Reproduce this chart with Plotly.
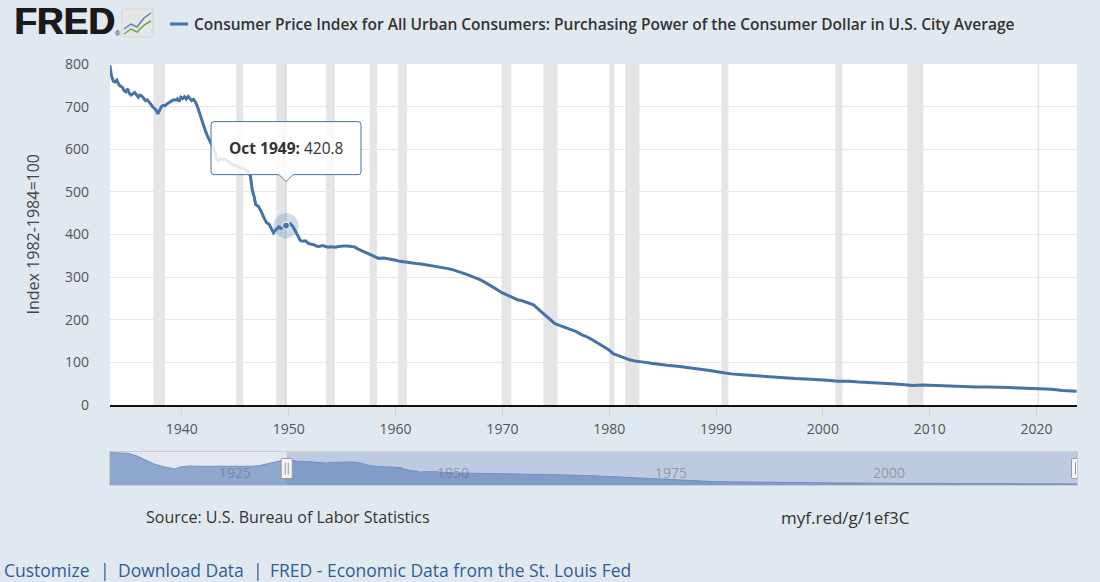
import plotly.graph_objects as go

# ---------------- data ----------------
main_dates = [
    "1933-04","1933-06","1933-08","1933-10","1933-12","1934-02","1934-04","1934-06","1934-08","1934-10","1934-12",
    "1935-02","1935-04","1935-06","1935-08","1935-10","1935-12","1936-02","1936-04","1936-06","1936-08","1936-10","1936-12",
    "1937-02","1937-04","1937-06","1937-08","1937-10","1937-12","1938-02","1938-04","1938-06","1938-08","1938-10","1938-12",
    "1939-02","1939-04","1939-06","1939-08","1939-10","1939-12","1940-02","1940-04","1940-06","1940-08","1940-10","1940-12",
    "1941-02","1941-04","1941-06","1941-08","1941-10","1941-12","1942-02","1942-04","1942-06","1942-08","1942-10","1942-12",
    "1943-02","1943-04","1943-06","1943-08","1943-10","1943-12","1944-03","1944-06","1944-09","1944-12",
    "1945-03","1945-06","1945-09","1945-12","1946-03","1946-06","1946-08","1946-10","1946-12",
    "1947-03","1947-06","1947-09","1947-12","1948-03","1948-06","1948-08","1948-10","1948-12",
    "1949-02","1949-04","1949-06","1949-08","1949-10","1950-01","1950-03","1950-06","1950-09","1950-12",
    "1951-02","1951-05","1951-08","1951-11","1952-02","1952-05","1952-08","1952-11",
    "1953-03","1953-06","1953-09","1953-12","1954-03","1954-06","1954-09","1954-12",
    "1955-03","1955-06","1955-09","1955-12","1956-03","1956-06","1956-09","1956-12",
    "1957-06","1957-12","1958-06","1958-12","1959-06","1959-12","1960-06","1960-12","1961-06","1961-12",
    "1962-06","1962-12","1963-06","1963-12","1964-06","1964-12","1965-06","1965-12","1966-06","1966-12",
    "1967-06","1967-12","1968-06","1968-12","1969-06","1969-12","1970-06","1970-12","1971-06","1971-12",
    "1972-06","1972-12","1973-06","1973-12","1974-06","1974-12","1975-06","1975-12","1976-06","1976-12",
    "1977-06","1977-12","1978-06","1978-12","1979-06","1979-12","1980-06","1980-12","1981-06","1981-12",
    "1982-06","1982-12","1983-06","1983-12","1984-06","1984-12","1985-06","1986-06","1987-06","1988-06",
    "1989-06","1990-06","1991-06","1992-06","1993-06","1994-06","1995-06","1996-06","1997-06","1998-06",
    "1999-06","2000-06","2001-06","2002-06","2003-06","2004-06","2005-06","2006-06","2007-06","2008-06",
    "2009-06","2010-06","2011-06","2012-06","2013-06","2014-06","2015-06","2016-06","2017-06","2018-06",
    "2019-06","2020-06","2021-06","2022-06","2023-06","2023-10",
]
main_values = [
    797,772,760,758,762,752,748,746,738,735,742,
    731,727,731,733,728,722,727,725,720,714,716,712,
    706,700,697,692,683,690,700,703,702,706,708,710,
    714,716,715,718,712,722,719,723,718,724,720,714,
    717,712,703,690,676,665,652,640,630,622,612,604,
    595,578,573,578,576,577,575,569,565,562,
    562,556,556,553,549,538,505,490,470,
    466,455,440,428,424,410,404,410,413,
    418,414,416,418,420.8,424,425,418,405,393,
    386,384,385,379,378,376,373,372,
    374,372,370,371,371,370,372,373,
    373,373,372,371,371,367,364,361,
    354,349,344,345,343,340,337,335,334,332,
    331,329,327,325,323,320,317,313,308,304,
    299,294,287,280,272,264,258,252,247,244,
    240,235,224,213,202,191,186,181,176,172,
    165,160,153,146,138,130,120,115,110,106,
    103,102,100,98,96,95,93,91,88,85,
    81,77,73,71,69,67,66,64,62,61,
    60,58,56,56,54,53,51,50,48,46,
    47,46,44,44,43,42,42,42,41,40,
    39,39,37,34,33,32.5,
]

# earlier history shown only in the navigator
early_dates = ["1913-01","1914-01","1915-01","1916-01","1917-01","1918-01","1919-01","1920-01","1920-06",
               "1921-01","1922-01","1923-01","1924-01","1925-01","1926-01","1927-01","1928-01","1929-01",
               "1930-01","1931-01","1932-01","1933-01"]
early_values = [1010,1000,990,917,781,662,578,520,500,
                559,595,585,585,571,565,575,585,585,
                599,658,730,780]

recession_starts = ["1937-05","1945-02","1948-11","1953-07","1957-08","1960-04","1969-12","1973-11",
                    "1980-01","1981-07","1990-07","2001-03","2007-12","2020-02"]
recession_ends = ["1938-06","1945-10","1949-10","1954-05","1958-04","1961-02","1970-11","1975-03",
                  "1980-07","1982-11","1991-03","2001-11","2009-06","2020-04"]

y_ticks = [0, 100, 200, 300, 400, 500, 600, 700, 800]
x_ticks = ["1940","1950","1960","1970","1980","1990","2000","2010","2020"]
nav_labels = ["1925", "1950", "1975", "2000"]

hover_date = "1949-10"
hover_value = 420.8
hover_label = "<b>Oct 1949:</b> 420.8"

title_text = "Consumer Price Index for All Urban Consumers: Purchasing Power of the Consumer Dollar in U.S. City Average"
y_title = "Index 1982-1984=100"
footer_links = [("Customize", 2), ("|", 98), ("Download Data", 116), ("|", 251),
                ("FRED - Economic Data from the St. Louis Fed", 268)]

# ---------------- layout helpers ----------------
W, H = 1100, 582
ML, MR, MT, MB = 110, 23, 64, 97
PW = W - ML - MR
PH = H - MT - MB
def px_x(p):
    return (p - ML) / PW
def px_y(p):
    return (H - MB - p) / PH

FONT = "Open Sans"
LINE = "#4572a7"
BG = "#e1e9f0"

fig = go.Figure()

# main series
fig.add_trace(go.Scatter(x=main_dates, y=main_values, mode="lines",
                         line=dict(color=LINE, width=3), hoverinfo="skip",
                         xaxis="x", yaxis="y"))
# hover halo + point
fig.add_trace(go.Scatter(x=[hover_date], y=[hover_value], mode="markers",
                         marker=dict(size=25, color="rgba(69,114,167,0.25)", line=dict(width=0)),
                         hoverinfo="skip", xaxis="x", yaxis="y"))
fig.add_trace(go.Scatter(x=[hover_date], y=[hover_value], mode="markers",
                         marker=dict(size=7, color=LINE, line=dict(width=1, color="white")),
                         hoverinfo="skip", xaxis="x", yaxis="y"))

# navigator series
nav_dates = early_dates + main_dates
nav_values = early_values + main_values
fig.add_trace(go.Scatter(x=nav_dates, y=nav_values, mode="lines", fill="tozeroy",
                         line=dict(color="#7592c2", width=1), fillcolor="#8fa7cd",
                         hoverinfo="skip", xaxis="x2", yaxis="y2"))

shapes = []
for s, e in zip(recession_starts, recession_ends):
    shapes.append(dict(type="rect", xref="x", yref="y domain", x0=s, x1=e, y0=0, y1=1,
                       fillcolor="#e5e5e5", line=dict(width=0), layer="below"))
# crosshair
shapes.append(dict(type="line", xref="x", yref="y domain", x0=hover_date, x1=hover_date, y0=0, y1=1,
                   line=dict(color="#c8c8c8", width=1), layer="below"))
# navigator selected-range mask
shapes.append(dict(type="rect", xref="x2", yref="y2 domain", x0=main_dates[0], x1="2023-10-15", y0=0, y1=1,
                   fillcolor="rgba(102,133,194,0.3)", line=dict(width=0), layer="above"))
# navigator handles
for hx in [main_dates[0], "2023-10-15"]:
    shapes.append(dict(type="path", xref="x2", yref="y2 domain", xsizemode="pixel", ysizemode="pixel",
                       xanchor=hx, yanchor=0.5,
                       path="M -4.5,-10 L 4.5,-10 Q 5.5,-10 5.5,-9 L 5.5,9 Q 5.5,10 4.5,10 L -4.5,10 Q -5.5,10 -5.5,9 L -5.5,-9 Q -5.5,-10 -4.5,-10 Z",
                       fillcolor="#f5f5f5", line=dict(color="#999999", width=1), layer="above"))
    for dx in (-1.5, 1.5):
        shapes.append(dict(type="line", xref="x2", yref="y2 domain", xsizemode="pixel", ysizemode="pixel",
                           xanchor=hx, yanchor=0.5, x0=dx, x1=dx, y0=-6, y1=6,
                           line=dict(color="#999999", width=1), layer="above"))
# tooltip box with tail
shapes.append(dict(type="path", xref="x", yref="y", xsizemode="pixel", ysizemode="pixel",
                   xanchor=hover_date, yanchor=hover_value,
                   path=("M -72,104 L 72,104 Q 75,104 75,101 L 75,54 Q 75,51 72,51 L 7,51 L 0,44 L -7,51 "
                         "L -72,51 Q -75,51 -75,54 L -75,101 Q -75,104 -72,104 Z"),
                   fillcolor="rgba(255,255,255,0.85)", line=dict(color=LINE, width=1), layer="above"))
# legend dash next to title
shapes.append(dict(type="line", xref="paper", yref="paper", x0=px_x(170), x1=px_x(188),
                   y0=px_y(24), y1=px_y(24), line=dict(color=LINE, width=3)))
# FRED icon
shapes.append(dict(type="rect", xref="paper", yref="paper", x0=px_x(122), x1=px_x(153),
                   y0=px_y(37), y1=px_y(9), fillcolor="#e4e6e8", line=dict(color="#d4d6d8", width=1)))
shapes.append(dict(type="path", xref="paper", yref="paper",
                   path="M %f,%f L %f,%f L %f,%f L %f,%f L %f,%f" % (
                       px_x(124), px_y(29), px_x(131), px_y(24), px_x(137), px_y(27), px_x(144), px_y(18), px_x(151), px_y(13)),
                   line=dict(color="#5b7fbf", width=1.5)))
shapes.append(dict(type="path", xref="paper", yref="paper",
                   path="M %f,%f L %f,%f L %f,%f L %f,%f L %f,%f" % (
                       px_x(124), px_y(34), px_x(131), px_y(29), px_x(137), px_y(32), px_x(144), px_y(25), px_x(151), px_y(21)),
                   line=dict(color="#6aaa3a", width=1.5)))

annotations = []
for dx in (0, 1):
    annotations.append(dict(text="FRED", xref="paper", yref="paper", x=px_x(12), y=px_y(22), xshift=dx,
                            xanchor="left", yanchor="middle", showarrow=False,
                            font=dict(family="Liberation Sans", size=37, color="#1a1a1a", weight="bold")))
annotations += [
    dict(text="®", xref="paper", yref="paper", x=px_x(113), y=px_y(34), xanchor="left", yanchor="middle",
         showarrow=False, font=dict(family="Liberation Sans", size=7, color="#1a1a1a")),
    dict(text=title_text, xref="paper", yref="paper", x=px_x(192), y=px_y(24), xanchor="left", yanchor="middle",
         showarrow=False, font=dict(family=FONT, size=15.5, color="#333333", weight=600)),
    dict(text=y_title, xref="paper", yref="y domain", x=px_x(32), y=0.5, xanchor="center", yanchor="middle",
         textangle=-90, showarrow=False, font=dict(family=FONT, size=16, color="#444444")),
    dict(text=hover_label, xref="x", yref="y", x=hover_date, y=hover_value, yshift=78,
         xanchor="center", yanchor="middle", showarrow=False,
         font=dict(family=FONT, size=15.5, color="#333333")),
    dict(text="Source: U.S. Bureau of Labor Statistics", xref="paper", yref="paper", x=px_x(144), y=px_y(517),
         xanchor="left", yanchor="middle", showarrow=False, font=dict(family=FONT, size=16, color="#333333")),
    dict(text="myf.red/g/1ef3C", xref="paper", yref="paper", x=px_x(779), y=px_y(517),
         xanchor="left", yanchor="middle", showarrow=False, font=dict(family=FONT, size=17, color="#333333")),
]
for txt, xp in footer_links:
    annotations.append(dict(text=txt, xref="paper", yref="paper", x=px_x(xp), y=px_y(570),
                            xanchor="left", yanchor="middle", showarrow=False,
                            font=dict(family=FONT, size=17.5, color="#2f5d98")))
for lab in nav_labels:
    annotations.append(dict(text=lab, xref="x2", yref="y2 domain", x=lab + "-01-01", y=0.38, xshift=2,
                            xanchor="left", yanchor="middle", showarrow=False,
                            font=dict(family=FONT, size=14, color="rgba(110,110,110,0.55)")))

main_bottom = px_y(405)
nav_top = px_y(452)

fig.update_layout(
    width=W, height=H,
    margin=dict(l=ML, r=MR, t=MT, b=MB),
    paper_bgcolor=BG, plot_bgcolor="white",
    showlegend=False, hovermode=False,
    font=dict(family=FONT, color="#555555"),
    xaxis=dict(domain=[0, 1], range=["1933-04-10", "2023-10-15"], type="date",
               tickvals=[t + "-01-01" for t in x_ticks], ticktext=x_ticks,
               showgrid=False, zeroline=False, showline=True, linecolor="#111111", linewidth=2,
               ticks="outside", ticklen=10, tickcolor="#ccd6eb", tickwidth=1,
               tickfont=dict(family=FONT, size=14, color="#555555"), anchor="y"),
    yaxis=dict(domain=[main_bottom, 1], range=[0, 800], tickvals=y_ticks,
               showgrid=True, gridcolor="#e6e6e6", gridwidth=1, zeroline=False, showline=False,
               ticks="", ticklabelstandoff=20,
               tickfont=dict(family=FONT, size=14, color="#555555"), anchor="x"),
    xaxis2=dict(domain=[0, 1], range=["1913-01-01", "2023-10-15"], type="date",
                showticklabels=False, ticks="", showgrid=False, zeroline=False,
                showline=True, mirror=True, linecolor="#c8ccd2", linewidth=1, anchor="y2"),
    yaxis2=dict(domain=[0, nav_top], range=[0, 1030], showticklabels=False, ticks="",
                showgrid=False, zeroline=False, showline=True, mirror=True,
                linecolor="#c8ccd2", linewidth=1, anchor="x2"),
    shapes=shapes, annotations=annotations,
)
fig.add_shape(type="rect", xref="x2", yref="y2 domain", x0="1913-01-01", x1="2023-10-15", y0=0, y1=1,
              fillcolor="#e4e9f0", line=dict(width=0), layer="below")

fig.write_html("out.html", config=dict(displayModeBar=False),
               post_script="document.body.style.margin='0px';")
